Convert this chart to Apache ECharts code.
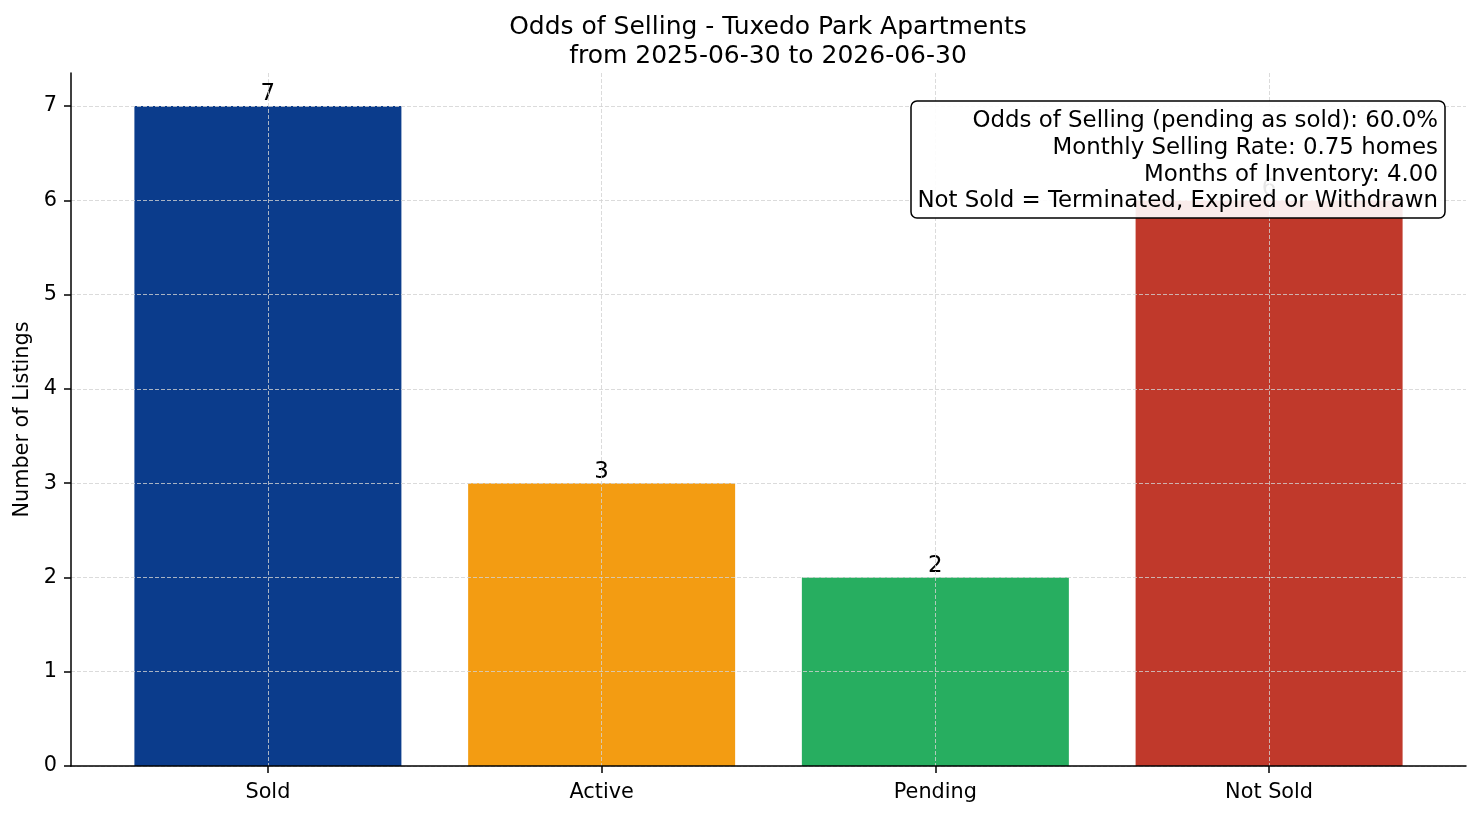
<!DOCTYPE html>
<html>
<head>
<meta charset="utf-8">
<script src="https://cdn.jsdelivr.net/npm/echarts@6/dist/echarts.min.js"></script>
<style>
html,body{margin:0;padding:0;background:#fff;}
#chart{width:1481px;height:816px;}
</style>
</head>
<body>
<div id="chart"></div>
<script>
const categories = ['Sold', 'Active', 'Pending', 'Not Sold'];
const counts = [7, 3, 2, 6];
const barColors = ['#0b3c8c', '#f39c12', '#27ae60', '#c0392b'];
const yTicks = [0, 1, 2, 3, 4, 5, 6, 7];
const xTicks = [0, 1, 2, 3];
const titleLines = ['Odds of Selling - Tuxedo Park Apartments', 'from 2025-06-30 to 2026-06-30'];
const infoLines = [
  'Odds of Selling (pending as sold): 60.0%',
  'Monthly Selling Rate: 0.75 homes',
  'Months of Inventory: 4.00',
  'Not Sold = Terminated, Expired or Withdrawn'
];

const FONT = 'DejaVu Sans';
const chart = echarts.init(document.getElementById('chart'), null, {renderer: 'canvas'});
const gridLine = {show: true, lineStyle: {color: '#d2d2d2', width: 0.8, type: [4, 2]}};

chart.setOption({
  animation: false,
  backgroundColor: '#ffffff',
  title: {
    text: titleLines.join('\n'),
    left: 768, top: 13, padding: 0,
    textAlign: 'center',
    textStyle: {fontFamily: FONT, fontSize: 25, fontWeight: 'normal', color: '#000', lineHeight: 29}
  },
  grid: {left: 71, right: 15, top: 73, bottom: 50, containLabel: false},
  xAxis: {
    type: 'value', min: -0.59, max: 3.59, z: 3,
    axisLine: {show: true, onZero: false, lineStyle: {color: '#000', width: 1.5}},
    axisTick: {show: true, customValues: xTicks, length: 7, lineStyle: {color: '#000', width: 1.5}},
    axisLabel: {customValues: xTicks, formatter: v => categories[Math.round(v)], fontFamily: FONT, fontSize: 20.8, color: '#000', margin: 16},
    splitLine: gridLine
  },
  yAxis: {
    type: 'value', min: 0, max: 7.35, z: 3,
    name: 'Number of Listings', nameLocation: 'middle', nameGap: 32,
    nameTextStyle: {fontFamily: FONT, fontSize: 20.8, color: '#000'},
    axisLine: {show: true, onZero: false, lineStyle: {color: '#000', width: 1.5}},
    axisTick: {show: true, customValues: yTicks, length: 7, lineStyle: {color: '#000', width: 1.5}},
    axisLabel: {customValues: yTicks, fontFamily: FONT, fontSize: 20.8, color: '#000', margin: 14},
    splitLine: gridLine
  },
  series: [{
    type: 'bar',
    barWidth: 267,
    data: categories.map((c, i) => ({value: [i, counts[i]], itemStyle: {color: barColors[i]}})),
    label: {show: true, position: 'top', distance: 0, fontFamily: FONT, fontSize: 22.9, color: '#000',
      formatter: p => String(p.value[1])}
  }],
  graphic: [{
    type: 'group', z: 100,
    children: [{
      type: 'rect', z: 100,
      shape: {x: 911, y: 101, width: 534, height: 117, r: 6},
      style: {fill: 'rgba(255,255,255,0.9)', stroke: '#000', lineWidth: 1.5}
    }, {
      type: 'text', z: 101,
      x: 1438, y: 108,
      style: {text: infoLines.join('\n'), align: 'right', verticalAlign: 'top', fontFamily: FONT, fontSize: 22.9, lineHeight: 26.7, fill: '#000'}
    }]
  }]
});
</script>
</body>
</html>
